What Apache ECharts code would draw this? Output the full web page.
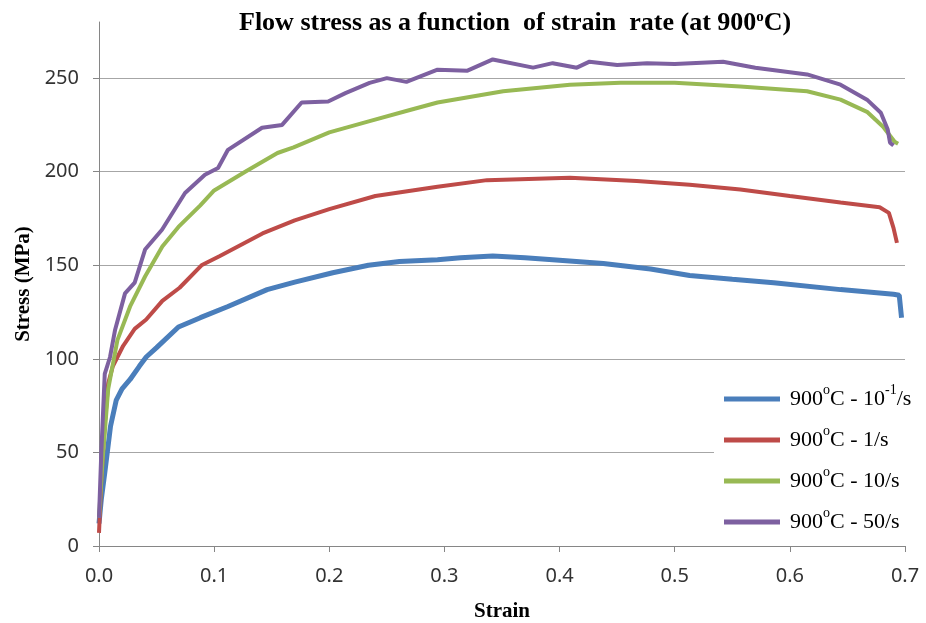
<!DOCTYPE html>
<html>
<head>
<meta charset="utf-8" />
<title>Flow stress</title>
<script src="https://cdn.jsdelivr.net/npm/echarts@6/dist/echarts.min.js"></script>
<style>
  html, body { margin: 0; padding: 0; background: #fff; }
  #chart { width: 926px; height: 623px; }
</style>
</head>
<body>
<div id="chart"></div>
<script>
// series names (as shown in legend)
var seriesNames = ['900°C - 10-1/s', '900°C - 1/s', '900°C - 10/s', '900°C - 50/s'];
var seriesColors = ['#4a7ebb', '#be4b48', '#98b954', '#7d60a0'];

// 10^-1 /s
var strainSlow = [0, 0.002, 0.005, 0.01, 0.015, 0.02, 0.027, 0.035, 0.041, 0.05, 0.069, 0.088, 0.112, 0.146, 0.17, 0.203, 0.234, 0.261, 0.294, 0.314, 0.342, 0.37, 0.394, 0.438, 0.479, 0.513, 0.55, 0.586, 0.644, 0.69, 0.695, 0.697];
var stressSlow = [12, 25, 39, 64, 78, 84, 89, 96, 101, 106, 117, 122, 128, 137, 141, 146, 150, 152, 153, 154, 155, 154, 153, 151, 148, 144.5, 142.5, 140.7, 137, 134.5, 134, 122];

// 1 /s
var strain1 = [0, 0.002, 0.005, 0.008, 0.012, 0.021, 0.031, 0.041, 0.055, 0.07, 0.089, 0.105, 0.142, 0.17, 0.2, 0.24, 0.294, 0.337, 0.409, 0.467, 0.513, 0.557, 0.6, 0.644, 0.678, 0.686, 0.69, 0.693];
var stress1 = [7, 35, 65, 87, 96, 107, 116, 121, 131, 138, 150, 155, 167, 174, 180, 187, 192, 195.5, 196.8, 195, 193, 190.5, 187, 183.5, 181, 178, 170, 162];

// 10 /s
var strain10 = [0, 0.003, 0.008, 0.016, 0.027, 0.04, 0.055, 0.069, 0.088, 0.1, 0.127, 0.155, 0.169, 0.2, 0.235, 0.27, 0.294, 0.351, 0.409, 0.453, 0.5, 0.557, 0.615, 0.644, 0.667, 0.681, 0.691, 0.694];
var stress10 = [15, 45, 84, 110, 128, 144, 160, 170.5, 182, 190, 200, 210, 213, 221, 227, 233, 237, 243, 246.5, 247.5, 247.5, 245.5, 243, 238.5, 232, 224, 216, 215];

// 50 /s
var strain50 = [0, 0.002, 0.005, 0.0096, 0.014, 0.0226, 0.031, 0.04, 0.0547, 0.0747, 0.092, 0.1034, 0.112, 0.1416, 0.159, 0.176, 0.199, 0.214, 0.235, 0.25, 0.267, 0.294, 0.32, 0.342, 0.377, 0.394, 0.415, 0.426, 0.45, 0.476, 0.5, 0.542, 0.57, 0.615, 0.644, 0.667, 0.679, 0.685, 0.687, 0.69];
var stress50 = [15, 50, 92, 101, 115.6, 135, 140.7, 158.4, 169, 188.6, 198.4, 202, 211.7, 223.5, 225, 237, 237.5, 242, 247.5, 250, 248, 254.5, 254, 260, 255.6, 258, 255.6, 258.8, 257, 258, 257.5, 258.8, 255.6, 252, 246.5, 238.5, 231.5, 222.5, 215.5, 214];

var yTicks = [0, 50, 100, 150, 200, 250];

function pairs(xs, ys) {
    var out = [];
    for (var i = 0; i < xs.length; i++) out.push([xs[i], ys[i]]);
    return out;
}

var allData = [pairs(strainSlow, stressSlow), pairs(strain1, stress1), pairs(strain10, stress10), pairs(strain50, stress50)];

var series = [];
for (var i = 0; i < seriesNames.length; i++) {
    series.push({
        name: seriesNames[i],
        type: 'line',
        data: allData[i],
        showSymbol: false,
        symbol: 'none',
        lineStyle: { color: seriesColors[i], width: i === 0 ? 5 : 4 },
        itemStyle: { color: seriesColors[i] },
        z: 2 + i
    });
}

var serif = '"Liberation Serif", "Times New Roman", serif';
var sans = '"Noto Sans", "Open Sans", sans-serif';

var option = {
    animation: false,
    backgroundColor: '#fff',
    title: {
        text: 'Flow stress as a function  of strain  rate (at 900{sup|o}C)',
        left: 234,
        top: 5,
        textStyle: {
            fontFamily: serif,
            fontWeight: 'bold',
            fontSize: 26,
            color: '#000',
            rich: {
                sup: { fontFamily: serif, fontWeight: 'bold', fontSize: 15, color: '#000', padding: [0, 0, 11, 0] }
            }
        }
    },
    legend: {
        orient: 'vertical',
        left: 714,
        top: 373,
        padding: [10, 12, 8, 10],
        backgroundColor: '#fff',
        icon: 'rect',
        itemWidth: 56,
        itemHeight: 5,
        itemGap: 14,
        z: 10,
        data: seriesNames,
        formatter: function (name) {
            return name.replace('°', '{sup|o}').replace('10-1', '10{sup|-1}');
        },
        textStyle: {
            fontFamily: serif,
            fontSize: 22,
            color: '#000',
            padding: [0, 0, 0, 5],
            rich: {
                sup: { fontFamily: serif, fontSize: 14, color: '#000', padding: [0, 0, 18, 0] }
            }
        }
    },
    grid: { left: 99, right: 21, top: 22, bottom: 77, outerBoundsMode: 'none' },
    xAxis: {
        type: 'value',
        min: 0,
        max: 0.7,
        interval: 0.1,
        name: 'Strain',
        nameLocation: 'middle',
        nameGap: 55,
        nameTextStyle: { fontFamily: serif, fontWeight: 'bold', fontSize: 21, color: '#000' },
        axisLine: { show: true, lineStyle: { color: '#868686', width: 1 } },
        axisTick: { show: true, length: 6, lineStyle: { color: '#868686' } },
        axisLabel: {
            margin: 20,
            fontFamily: sans,
            fontSize: 20,
            color: '#333',
            formatter: function (v) { return v.toFixed(1); }
        },
        splitLine: { show: false }
    },
    yAxis: {
        type: 'value',
        min: 0,
        max: 280,
        interval: 50,
        name: 'Stress (MPa)',
        nameLocation: 'middle',
        nameGap: 65,
        nameTextStyle: { fontFamily: serif, fontWeight: 'bold', fontSize: 21, color: '#000' },
        axisLine: { show: true, lineStyle: { color: '#868686', width: 1 } },
        axisTick: { show: true, length: 6, customValues: yTicks, lineStyle: { color: '#868686' } },
        axisLabel: {
            margin: 20,
            fontFamily: sans,
            fontSize: 20,
            color: '#333',
            customValues: yTicks
        },
        splitLine: { show: true, lineStyle: { color: '#a6a6a6', width: 1 } }
    },
    series: series
};

var myChart = echarts.init(document.getElementById('chart'));
myChart.setOption(option);
</script>
</body>
</html>
